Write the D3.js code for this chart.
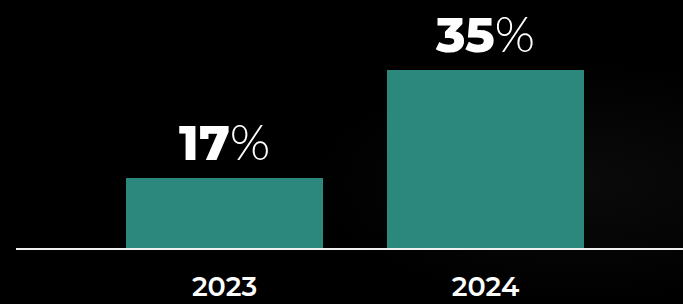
<!DOCTYPE html>
<html><head><meta charset="utf-8">
<script src="https://cdn.jsdelivr.net/npm/d3@7"></script>
<style>html,body{margin:0;padding:0;background:#000;overflow:hidden}</style>
</head><body>
<svg id="c" width="683" height="304"></svg>
<script>
const categories = ["2023", "2024"];
const values = [17, 35];
const unit = "%";

const W = 683, H = 304;
const svg = d3.select("#c");
const defs = svg.append("defs");
const g1 = defs.append("radialGradient").attr("id","glow").attr("cx","85%").attr("cy","60%").attr("r","40%");
g1.append("stop").attr("offset","0%").attr("stop-color","#1a1a1a");
g1.append("stop").attr("offset","100%").attr("stop-color","#000");
svg.append("rect").attr("width",W).attr("height",H).attr("fill","#000");
svg.append("rect").attr("width",W).attr("height",H).attr("fill","url(#glow)").attr("opacity",0.4);

const baseY = 249;
const x = d3.scaleBand().domain(categories).range([126, 584]).paddingInner(0.245).paddingOuter(0);
const y = d3.scaleLinear().domain([0, 35]).range([280, 70]);

svg.selectAll("rect.bar").data(values).join("rect").attr("class","bar")
  .attr("x",(d,i)=>x(categories[i]))
  .attr("width",x.bandwidth())
  .attr("y",d=>y(d))
  .attr("height",d=>baseY - y(d))
  .attr("fill","#2c877c");

svg.append("line").attr("x1",16).attr("x2",W).attr("y1",baseY).attr("y2",baseY)
  .attr("stroke","#f0f0f0").attr("stroke-width",2);

const lab = svg.selectAll("text.val").data(values).join("text").attr("class","val")
  .attr("x",(d,i)=>x(categories[i]) + x.bandwidth()/2)
  .attr("y",d=>y(d) - 18)
  .attr("text-anchor","middle")
  .attr("fill","#fff")
  .style("font-family","Montserrat, 'Open Sans', sans-serif")
  .style("font-size","49px");
lab.append("tspan").attr("font-weight",800).text(d=>d);
lab.append("tspan").attr("font-weight",300).text(unit);

const xAxis = d3.axisBottom(x).tickSize(0).tickPadding(0);
const ax = svg.append("g").attr("transform",`translate(0,${baseY})`).call(xAxis);
ax.select(".domain").remove();
ax.selectAll("text").attr("y",47).attr("dy",0).attr("fill","#fff")
  .style("font-family","Montserrat, 'Open Sans', sans-serif")
  .style("font-size","27px").style("font-weight",600);
</script>
</body></html>
